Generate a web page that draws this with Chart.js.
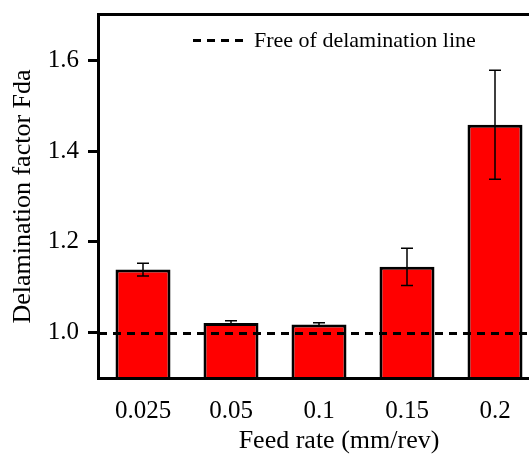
<!DOCTYPE html>
<html>
<head>
<meta charset="utf-8">
<script src="https://cdn.jsdelivr.net/npm/chart.js@4"></script>
<style>
  html, body { margin: 0; padding: 0; background: #fff; overflow: hidden; }
  #wrap { width: 529px; height: 455px; overflow: hidden; }
</style>
</head>
<body>
<div id="wrap"><canvas id="c" width="545" height="455"></canvas></div>
<script>
// data
const feedRates = ['0.025', '0.05', '0.1', '0.15', '0.2'];
const fdaMean = [1.139, 1.021, 1.018, 1.145, 1.458];
const fdaErr = [0.014, 0.005, 0.004, 0.041, 0.120];
const yTicks = [1.0, 1.2, 1.4, 1.6];
const freeLine = 1.0;
const legendText = 'Free of delamination line';
const xTitle = 'Feed rate (mm/rev)';

const SERIF = "'Liberation Serif', 'Times New Roman', serif";

// error bars, dashed line, frame, legend and x title
const extras = {
  id: 'extras',
  afterDatasetsDraw(chart) {
    const ctx = chart.ctx;
    const y = chart.scales.y;
    const meta = chart.getDatasetMeta(0);
    const area = chart.chartArea;

    ctx.save();
    ctx.strokeStyle = '#000';
    ctx.lineWidth = 1.5;
    meta.data.forEach((bar, i) => {
      const x = bar.x;
      const hi = y.getPixelForValue(fdaMean[i] + fdaErr[i]);
      const lo = y.getPixelForValue(fdaMean[i] - fdaErr[i]);
      ctx.beginPath();
      ctx.moveTo(x, hi); ctx.lineTo(x, lo);
      ctx.moveTo(x - 6, hi); ctx.lineTo(x + 6, hi);
      ctx.moveTo(x - 6, lo); ctx.lineTo(x + 6, lo);
      ctx.stroke();
    });

    // free of delamination line
    const yl = Math.round(y.getPixelForValue(freeLine)) + 0.5;
    ctx.lineWidth = 3;
    ctx.setLineDash([8, 6]);
    ctx.beginPath();
    ctx.moveTo(area.left, yl);
    ctx.lineTo(area.right, yl);
    ctx.stroke();

    // legend
    ctx.beginPath();
    ctx.moveTo(area.left + 94, area.top + 25.5);
    ctx.lineTo(area.left + 144, area.top + 25.5);
    ctx.stroke();
    ctx.setLineDash([]);
    ctx.fillStyle = '#000';
    ctx.font = '22px ' + SERIF;
    ctx.textBaseline = 'alphabetic';
    ctx.textAlign = 'left';
    ctx.fillText(legendText, area.left + 155, area.top + 32);

    // x axis title (sits a bit right of the plot centre in the original)
    ctx.font = '26px ' + SERIF;
    ctx.textAlign = 'center';
    ctx.fillText(xTitle, (area.left + area.right) / 2 + 20, area.bottom + 70);

    // frame
    ctx.lineWidth = 3;
    ctx.strokeRect(area.left - 0.5, area.top - 0.5, area.right - area.left, area.bottom - area.top + 1);
    ctx.restore();
  }
};

new Chart(document.getElementById('c'), {
  type: 'bar',
  data: {
    labels: feedRates,
    datasets: [{
      data: fdaMean,
      backgroundColor: '#ff0000',
      borderColor: '#000',
      borderWidth: 3,
      barPercentage: 0.625,
      categoryPercentage: 1
    }]
  },
  options: {
    responsive: false,
    animation: false,
    layout: { padding: { top: 15, right: 6, bottom: 0, left: 0 } },
    plugins: { legend: { display: false }, tooltip: { enabled: false } },
    scales: {
      x: {
        grid: { display: false },
        border: { display: false },
        ticks: { color: '#000', font: { family: SERIF, size: 25 }, padding: 10, maxRotation: 0 },
        title: { display: false },
        afterFit(s) { s.height = 77; s.paddingLeft = 0; s.paddingRight = 0; }
      },
      y: {
        min: 0.9,
        max: 1.7,
        afterBuildTicks(s) { s.ticks = yTicks.map(v => ({ value: v })); },
        grid: { drawOnChartArea: false, drawTicks: true, tickLength: 11, color: '#000', lineWidth: 3 },
        border: { display: false },
        ticks: {
          color: '#000', font: { family: SERIF, size: 25 }, padding: 9,
          callback: v => Number(v).toFixed(1)
        },
        title: {
          display: true, text: 'Delamination factor Fda', color: '#000',
          font: { family: SERIF, size: 26, lineHeight: 1.2 }, padding: { top: 8, bottom: 0 }
        },
        afterFit(s) { s.width = 99; s.paddingTop = 0; s.paddingBottom = 0; }
      }
    }
  },
  plugins: [extras]
});
</script>
</body>
</html>
